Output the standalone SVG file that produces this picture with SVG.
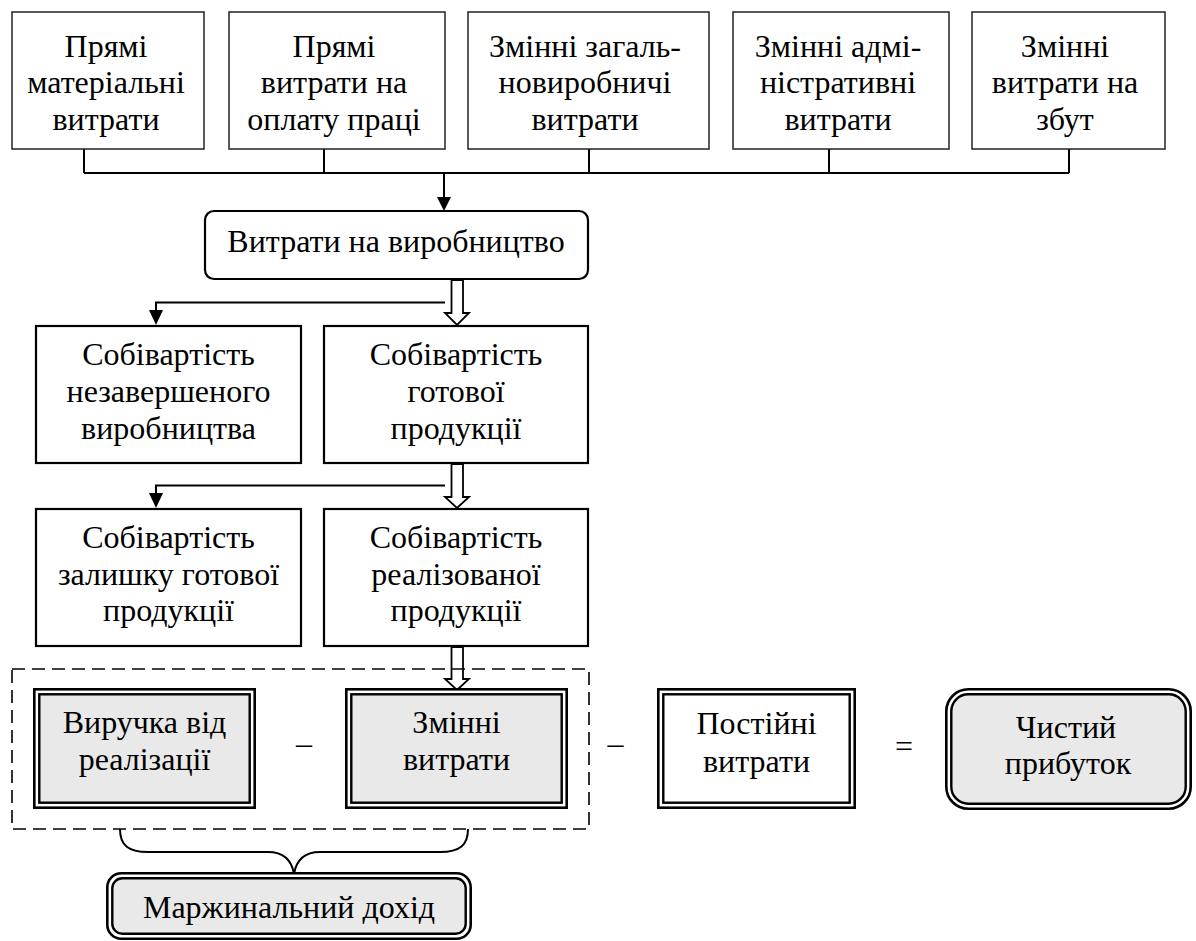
<svg xmlns="http://www.w3.org/2000/svg" width="1196" height="941" viewBox="0 0 1196 941">
<style>
  .top { fill: #fff; stroke: #222; stroke-width: 1.5; }
  .box { fill: #fff; stroke: #000; stroke-width: 2.2; }
  .line { fill: none; stroke: #000; stroke-width: 2; }
  .head { fill: #000; stroke: none; }
  .hollow { fill: #fff; stroke: #000; stroke-width: 1.8; }
  .out { fill: #fff; stroke: #000; stroke-width: 2.6; }
  .in { stroke: #000; stroke-width: 2.4; }
  .gray { fill: #e9e9e9; }
  .white { fill: #fff; }
  .dash { fill: none; stroke: #000; stroke-width: 1.6; stroke-dasharray: 13 7; }
</style>
<rect width="1196" height="941" fill="#fff"/>
<g id="connectors">
  <path class="line" d="M84,149 V173 M324,149 V173 M589,149 V173 M829,149 V173 M1069,149 V173 M84,173 H1069"/>
  <path class="line" d="M444,173 V199"/>
  <polygon class="head" points="437,197 451,197 444,211"/>
  <path class="line" d="M445,302.5 H156 V312"/>
  <polygon class="head" points="149,310 163,310 156,325"/>
  <path class="line" d="M445,485.5 H156 V495"/>
  <polygon class="head" points="149,493 163,493 156,508"/>
  <polygon class="hollow" points="451.5,280 463,280 463,313 469,313 457,325 445,313 451.5,313"/>
  <polygon class="hollow" points="451.5,464 463,464 463,497 469,497 457,508 445,497 451.5,497"/>
  <polygon class="hollow" points="451.5,647 463,647 463,679 469,679 457,690 445,679 451.5,679"/>
  <path class="line" d="M120,829 C120,845 128,852 148,852 L268,852 C286,852 292,862 294,874 C296,862 302,852 320,852 L440,852 C460,852 468,845 468,829"/>
</g>

<g id="n1"><rect class="top" x="12" y="12" width="192" height="137"/>
  <text font-family="Liberation Serif" font-size="32" text-anchor="middle" x="106" y="57">Прямі</text>
  <text font-family="Liberation Serif" font-size="32" text-anchor="middle" x="106" y="93">матеріальні</text>
  <text font-family="Liberation Serif" font-size="32" text-anchor="middle" x="106" y="130">витрати</text></g>
<g id="n2"><rect class="top" x="229" y="12" width="216" height="137"/>
  <text font-family="Liberation Serif" font-size="32" text-anchor="middle" x="334" y="57">Прямі</text>
  <text font-family="Liberation Serif" font-size="32" text-anchor="middle" x="334" y="93">витрати на</text>
  <text font-family="Liberation Serif" font-size="32" text-anchor="middle" x="334" y="130">оплату праці</text></g>
<g id="n3"><rect class="top" x="468" y="12" width="241" height="137"/>
  <text font-family="Liberation Serif" font-size="32" text-anchor="middle" x="585" y="57">Змінні загаль-</text>
  <text font-family="Liberation Serif" font-size="32" text-anchor="middle" x="585" y="93">новиробничі</text>
  <text font-family="Liberation Serif" font-size="32" text-anchor="middle" x="585" y="130">витрати</text></g>
<g id="n4"><rect class="top" x="733" y="12" width="216" height="137"/>
  <text font-family="Liberation Serif" font-size="32" text-anchor="middle" x="838" y="57">Змінні адмі-</text>
  <text font-family="Liberation Serif" font-size="32" text-anchor="middle" x="838" y="93">ністративні</text>
  <text font-family="Liberation Serif" font-size="32" text-anchor="middle" x="838" y="130">витрати</text></g>
<g id="n5"><rect class="top" x="972" y="12" width="193" height="137"/>
  <text font-family="Liberation Serif" font-size="32" text-anchor="middle" x="1065" y="57">Змінні</text>
  <text font-family="Liberation Serif" font-size="32" text-anchor="middle" x="1065" y="93">витрати на</text>
  <text font-family="Liberation Serif" font-size="32" text-anchor="middle" x="1065" y="130">збут</text></g>

<g id="n6"><rect class="box" x="205" y="211" width="383" height="68" rx="9"/>
  <text font-family="Liberation Serif" font-size="32" text-anchor="middle" x="396" y="252">Витрати на виробництво</text></g>

<g id="n7"><rect class="box" x="36" y="326" width="265" height="137"/>
  <text font-family="Liberation Serif" font-size="32" text-anchor="middle" x="168.5" y="365">Собівартість</text>
  <text font-family="Liberation Serif" font-size="32" text-anchor="middle" x="168.5" y="402">незавершеного</text>
  <text font-family="Liberation Serif" font-size="32" text-anchor="middle" x="168.5" y="439">виробництва</text></g>
<g id="n8"><rect class="box" x="324" y="326" width="264" height="137"/>
  <text font-family="Liberation Serif" font-size="32" text-anchor="middle" x="456" y="365">Собівартість</text>
  <text font-family="Liberation Serif" font-size="32" text-anchor="middle" x="456" y="402">готової</text>
  <text font-family="Liberation Serif" font-size="32" text-anchor="middle" x="456" y="439">продукції</text></g>
<g id="n9"><rect class="box" x="36" y="509" width="265" height="137"/>
  <text font-family="Liberation Serif" font-size="32" text-anchor="middle" x="168.5" y="548">Собівартість</text>
  <text font-family="Liberation Serif" font-size="32" text-anchor="middle" x="168.5" y="584.5">залишку готової</text>
  <text font-family="Liberation Serif" font-size="32" text-anchor="middle" x="168.5" y="621">продукції</text></g>
<g id="n10"><rect class="box" x="324" y="509" width="264" height="137"/>
  <text font-family="Liberation Serif" font-size="32" text-anchor="middle" x="456" y="548">Собівартість</text>
  <text font-family="Liberation Serif" font-size="32" text-anchor="middle" x="456" y="584.5">реалізованої</text>
  <text font-family="Liberation Serif" font-size="32" text-anchor="middle" x="456" y="621">продукції</text></g>

<g id="group-margin"><rect class="dash" x="12" y="669" width="577" height="160"/></g>

<g id="n11"><rect class="out" x="34.3" y="689.3" width="220.4" height="118.4"/>
  <rect class="in gray" x="39.3" y="694.3" width="210.4" height="108.4"/>
  <text font-family="Liberation Serif" font-size="32" text-anchor="middle" x="144.5" y="733">Виручка від</text>
  <text font-family="Liberation Serif" font-size="32" text-anchor="middle" x="144.5" y="770">реалізації</text></g>
<g id="n12"><rect class="out" x="346.3" y="689.3" width="220.4" height="118.4"/>
  <rect class="in gray" x="351.3" y="694.3" width="210.4" height="108.4"/>
  <text font-family="Liberation Serif" font-size="32" text-anchor="middle" x="456.5" y="733">Змінні</text>
  <text font-family="Liberation Serif" font-size="32" text-anchor="middle" x="456.5" y="770">витрати</text></g>
<g id="n13"><rect class="out" x="658.3" y="689.3" width="196.4" height="118.4"/>
  <rect class="in white" x="663.3" y="694.3" width="186.4" height="108.4"/>
  <text font-family="Liberation Serif" font-size="32" text-anchor="middle" x="756.5" y="734">Постійні</text>
  <text font-family="Liberation Serif" font-size="32" text-anchor="middle" x="756.5" y="772">витрати</text></g>
<g id="n14"><rect class="out" x="946.3" y="689.3" width="244.4" height="119.4" rx="22"/>
  <rect class="in gray" x="951.3" y="694.3" width="234.4" height="109.4" rx="17"/>
  <text font-family="Liberation Serif" font-size="32" text-anchor="middle" x="1066" y="738">Чистий</text>
  <text font-family="Liberation Serif" font-size="32" text-anchor="middle" x="1068" y="774">прибуток</text></g>
<g id="n15"><rect class="out" x="107.3" y="873.3" width="363.4" height="65.4" rx="14"/>
  <rect class="in gray" x="112.3" y="878.3" width="353.4" height="55.4" rx="10"/>
  <text font-family="Liberation Serif" font-size="32" text-anchor="middle" x="289" y="918">Маржинальний дохід</text></g>

<g id="operators">
  <text font-family="Liberation Serif" font-size="32" text-anchor="middle" x="304" y="754">–</text>
  <text font-family="Liberation Serif" font-size="32" text-anchor="middle" x="615.5" y="754">–</text>
  <text font-family="Liberation Serif" font-size="32" text-anchor="middle" x="904" y="757">=</text>
</g>
</svg>
